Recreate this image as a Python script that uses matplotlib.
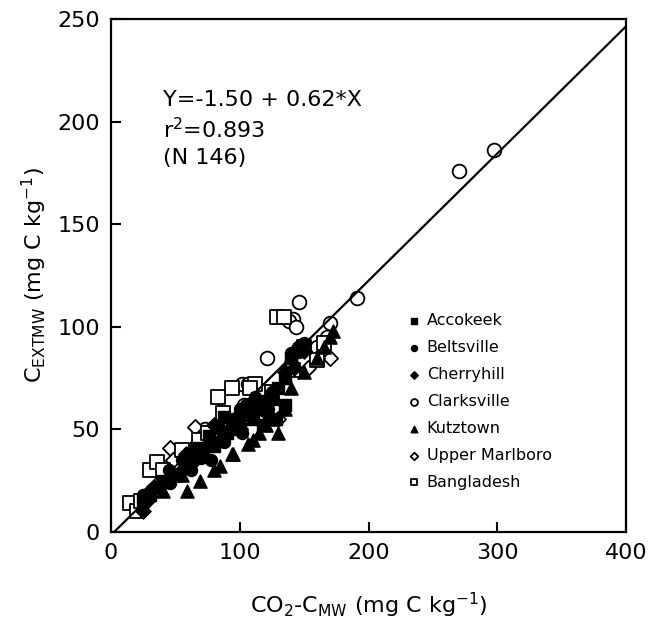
import numpy as np
import matplotlib
matplotlib.use("Agg")
import matplotlib.pyplot as plt

plt.rcParams['font.family'] = ['DejaVu Sans']
plt.rcParams['mathtext.fontset'] = 'dejavusans'

# data (x = CO2-C_MW, y = C_EXTMW), mg C / kg
acc_x = [25, 30, 40, 50, 60, 70, 80, 90, 95, 100, 105, 110, 115, 120, 125, 130, 135, 140, 145, 148, 135, 128, 118, 88, 76, 66]
acc_y = [15, 18, 25, 28, 33, 38, 42, 48, 52, 50, 57, 55, 60, 62, 65, 70, 75, 85, 88, 90, 62, 55, 52, 56, 47, 41]

bel_x = [25, 35, 45, 55, 65, 75, 85, 95, 100, 105, 110, 118, 125, 140, 145, 150, 62, 78, 88, 102, 112, 122, 70, 46]
bel_y = [18, 22, 30, 35, 38, 42, 50, 55, 60, 62, 58, 64, 68, 87, 90, 92, 30, 35, 44, 48, 66, 60, 36, 24]

che_x = [25, 28, 32, 40, 48, 55, 65, 72, 85, 92, 100, 110, 120, 135, 142, 150, 80, 58]
che_y = [10, 15, 20, 24, 28, 30, 35, 40, 45, 50, 55, 60, 58, 78, 80, 88, 52, 38]

cla_x = [297, 270, 191, 146, 170, 165, 160, 141, 138, 121, 144, 168, 108, 102, 106, 73, 95, 103, 145, 140]
cla_y = [186, 176, 114, 112, 102, 92, 90, 104, 103, 85, 100, 95, 62, 72, 72, 50, 52, 62, 88, 82]

kut_x = [59, 69, 50, 40, 55, 80, 94, 106, 110, 115, 120, 125, 135, 140, 150, 160, 165, 172, 170, 130, 95, 85]
kut_y = [20, 25, 28, 20, 28, 30, 38, 43, 45, 48, 52, 55, 60, 70, 78, 85, 90, 98, 95, 48, 38, 32]

upm_x = [30, 36, 38, 42, 46, 48, 65, 72, 170, 153, 160, 68, 33, 130, 100]
upm_y = [20, 34, 28, 30, 41, 35, 51, 48, 85, 80, 85, 45, 22, 55, 50]

ban_x = [15, 20, 23, 129, 134, 160, 141, 94, 83, 87, 125, 30, 36, 150, 165, 112, 108, 68, 55, 40, 75]
ban_y = [14, 10, 15, 105, 105, 84, 79, 70, 66, 58, 68, 30, 34, 90, 92, 72, 70, 45, 40, 30, 48]

intercept = -1.50
slope = 0.62

fig = plt.figure(figsize=(6.55, 6.33), dpi=100)
ax = fig.add_axes([0.1695, 0.1596, 0.7865, 0.8104])

ms = 75
# open symbols first, filled on top (the dense band is mostly black)
ax.scatter(cla_x, cla_y, marker='o', s=ms * 1.3, facecolors='white', edgecolors='black', linewidths=1.3, label='Clarksville', zorder=3)
ax.scatter(upm_x, upm_y, marker='D', s=ms * 0.8, facecolors='white', edgecolors='black', linewidths=1.3, label='Upper Marlboro', zorder=3)
ax.scatter(ban_x, ban_y, marker='s', s=ms * 1.3, facecolors='white', edgecolors='black', linewidths=1.3, label='Bangladesh', zorder=3)
ax.scatter(acc_x, acc_y, marker='s', s=ms, c='black', label='Accokeek', zorder=3)
ax.scatter(bel_x, bel_y, marker='o', s=ms, c='black', label='Beltsville', zorder=3)
ax.scatter(che_x, che_y, marker='D', s=ms * 0.8, c='black', label='Cherryhill', zorder=3)
ax.scatter(kut_x, kut_y, marker='^', s=ms * 1.2, c='black', label='Kutztown', zorder=3)

xx = np.array([0, 400])
ax.plot(xx, intercept + slope * xx, color='black', lw=1.6, zorder=4)

ax.set_xlim(0, 400)
ax.set_ylim(0, 250)
ax.set_xticks([0, 100, 200, 300, 400])
ax.set_yticks([0, 50, 100, 150, 200, 250])
ax.tick_params(direction='in', length=7, width=1.5, labelsize=16, pad=8)
for s in ax.spines.values():
    s.set_linewidth(1.6)

ax.set_xlabel(r'CO$_2$-C$_{\mathrm{MW}}$ (mg C kg$^{-1}$)', fontsize=16, labelpad=20)
ax.set_ylabel(r'C$_{\mathrm{EXTMW}}$ (mg C kg$^{-1}$)', fontsize=16, labelpad=6)

ax.text(0.10, 0.862, 'Y=-1.50 + 0.62*X\n' + r'r$^2$=0.893' + '\n(N 146)',
        transform=ax.transAxes, fontsize=16, va='top', ha='left', linespacing=1.35)

# legend in the reference order
handles, labels = ax.get_legend_handles_labels()
order = ['Accokeek', 'Beltsville', 'Cherryhill', 'Clarksville', 'Kutztown', 'Upper Marlboro', 'Bangladesh']
hmap = dict(zip(labels, handles))
ax.legend([hmap[k] for k in order], order, loc='lower left', bbox_to_anchor=(0.56, 0.07), frameon=False,
          fontsize=11.5, markerscale=0.5, handletextpad=0.3, labelspacing=0.75,
          handlelength=1.0, borderaxespad=0)

fig.savefig('out.png', dpi=100)
